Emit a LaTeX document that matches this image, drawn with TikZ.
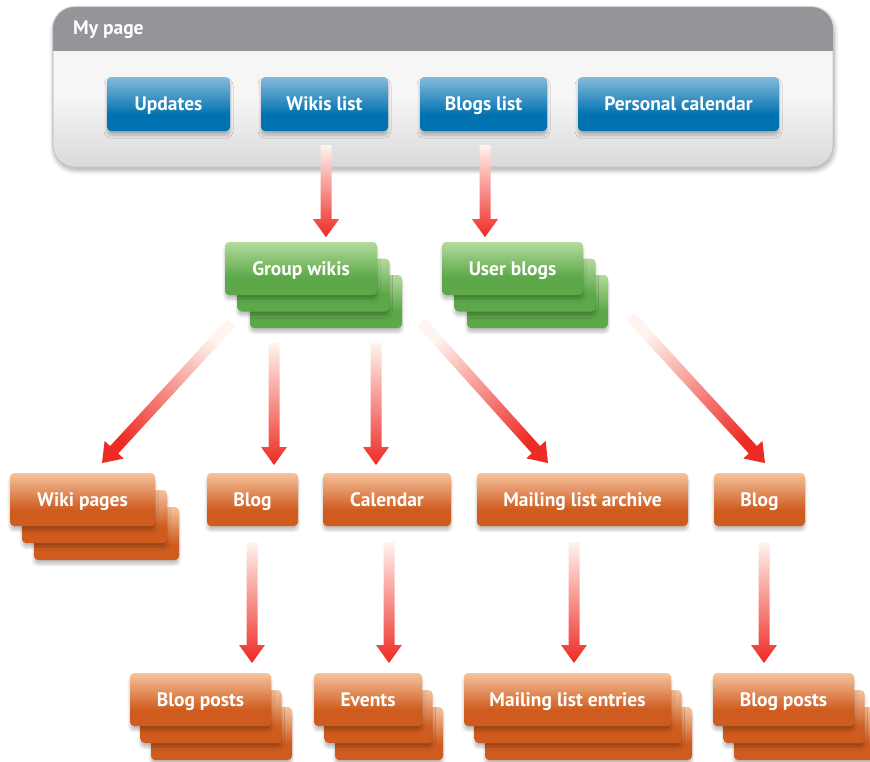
\documentclass[tikz,border=0pt]{standalone}
\usepackage{fontspec}
\setmainfont{PT Sans}
\usetikzlibrary{calc,shadows.blur}

% palette
\definecolor{hdrgray}{HTML}{939598}
\definecolor{panelL}{HTML}{F6F6F6}
\definecolor{panelD}{HTML}{D9D9DB}
\definecolor{panelEdge}{HTML}{C4C4C6}
\definecolor{blueL}{HTML}{86BADA}
\definecolor{blueD}{HTML}{0072B0}
\definecolor{greenL}{HTML}{B4DA9C}
\definecolor{greenD}{HTML}{5DA94A}
\definecolor{orangeL}{HTML}{F6C39D}
\definecolor{orangeD}{HTML}{CF5B1E}
\definecolor{arrowPale}{HTML}{FFF4EF}
\definecolor{arrowMid}{HTML}{F4A07E}
\definecolor{arrowRed}{HTML}{EE2A24}

% box fills: dark lower third, gradient to a light top edge
\pgfdeclareverticalshading{bluefill}{100bp}{color(0bp)=(blueD); color(25bp)=(blueD); color(40bp)=(blueD); color(75bp)=(blueL); color(100bp)=(blueL)}
\pgfdeclareverticalshading{greenfill}{100bp}{color(0bp)=(greenD); color(25bp)=(greenD); color(42bp)=(greenD); color(75bp)=(greenL); color(100bp)=(greenL)}
\pgfdeclareverticalshading{orangefill}{100bp}{color(0bp)=(orangeD); color(25bp)=(orangeD); color(40bp)=(orangeD); color(75bp)=(orangeL); color(100bp)=(orangeL)}
\pgfdeclareverticalshading{panelfill}{100bp}{color(0bp)=(panelD); color(25bp)=(panelD); color(47bp)=(panelL); color(100bp)=(panelL)}

\tikzset{
  box/.style={rounded corners=4pt, minimum height=53pt, inner sep=0pt,
    text=white, font=\fontsize{19.5}{22}\selectfont\bfseries,
    text height=13.5pt, text depth=0pt,
    blur shadow={shadow xshift=0pt, shadow yshift=-4pt, shadow blur steps=6,
      shadow opacity=25, shadow blur radius=3pt}},
  bluebox/.style={box, minimum height=54pt, shade, shading=bluefill},
  greenbox/.style={box, shade, shading=greenfill},
  orangebox/.style={box, shade, shading=orangefill},
  panelbox/.style={rounded corners=22pt, minimum width=780pt, minimum height=160pt,
    inner sep=0pt, shade, shading=panelfill, draw=panelEdge, line width=0.6pt,
    blur shadow={shadow xshift=1pt, shadow yshift=-3pt, shadow blur steps=8,
      shadow opacity=35, shadow blur radius=5pt}},
  hdrtext/.style={text=white, font=\fontsize{19.5}{22}\selectfont\bfseries,
    anchor=west, inner sep=0pt}
}

% gradient arrow: pale tail, red head
% #1 tail, #2 tip, #3 shading angle
\newcommand\gradarrow[3]{%
  \coordinate (headbase) at ($(#2)!18pt!(#1)$);
  \shade[top color=arrowPale, middle color=arrowMid, bottom color=arrowRed, shading angle=#3]
    ($(#1)!5.5pt!90:(#2)$) -- ($(headbase)!5.5pt!90:(#2)$)
    -- ($(headbase)!13pt!90:(#2)$) -- (#2)
    -- ($(headbase)!13pt!-90:(#2)$) -- ($(headbase)!5.5pt!-90:(#2)$)
    -- ($(#1)!5.5pt!-90:(#2)$) -- cycle;
}

\begin{document}
\begin{tikzpicture}[x=1pt, y=-1pt]
\useasboundingbox (0,0) rectangle (870,761);

% ---------- My page panel ----------
\node[panelbox] (panel) at (443,87) {};
\begin{scope}
  \clip[rounded corners=22pt] (panel.north west) rectangle (panel.south east);
  \fill[hdrgray] (panel.north west) rectangle ($(panel.north east)+(0,44)$);
\end{scope}
\draw[panelEdge, line width=0.6pt, rounded corners=22pt] (panel.north west) rectangle (panel.south east);
\node[hdrtext] (mypage) at (73,30) {My page};

\node[bluebox, minimum width=123pt] (upd) at (168.5,104) {Updates};
\node[bluebox, minimum width=127pt] (wl)  at (324.5,104) {Wikis list};
\node[bluebox, minimum width=127pt] (bl)  at (483.5,104) {Blogs list};
\node[bluebox, minimum width=201pt] (pc)  at (678.5,104) {Personal calendar};

% ---------- group level ----------
\node[greenbox, minimum width=152pt] (gw3) at (326,301.5) {};
\node[greenbox, minimum width=152pt] (gw2) at (313.5,285) {};
\node[greenbox, minimum width=152pt] (gw)  at (301,268.5) {Group wikis};

\node[greenbox, minimum width=141pt] (ub3) at (537.5,301.5) {};
\node[greenbox, minimum width=141pt] (ub2) at (525,285) {};
\node[greenbox, minimum width=141pt] (ub)  at (512.5,268.5) {User blogs};

% ---------- tool level ----------
\node[orangebox, minimum width=145pt] (wp3) at (106.5,533.5) {};
\node[orangebox, minimum width=145pt] (wp2) at (94.5,516.5) {};
\node[orangebox, minimum width=145pt] (wp)  at (82.5,499.5) {Wiki pages};
\node[orangebox, minimum width=91pt]  (blog1) at (252.5,499.5) {Blog};
\node[orangebox, minimum width=128pt] (cal)   at (387,499.5) {Calendar};
\node[orangebox, minimum width=211pt] (mla)   at (582.5,499.5) {Mailing list archive};
\node[orangebox, minimum width=91pt]  (blog2) at (759.5,499.5) {Blog};

% ---------- content level ----------
\node[orangebox, minimum width=141pt] (bp13) at (221.5,733.5) {};
\node[orangebox, minimum width=141pt] (bp12) at (211,716.5) {};
\node[orangebox, minimum width=141pt] (bp1)  at (200.5,699.5) {Blog posts};

\node[orangebox, minimum width=108pt] (ev3) at (389,733.5) {};
\node[orangebox, minimum width=108pt] (ev2) at (378.5,716.5) {};
\node[orangebox, minimum width=108pt] (ev)  at (368,699.5) {Events};

\node[orangebox, minimum width=207pt] (mle3) at (588.5,733.5) {};
\node[orangebox, minimum width=207pt] (mle2) at (578,716.5) {};
\node[orangebox, minimum width=207pt] (mle)  at (567.5,699.5) {Mailing list entries};

\node[orangebox, minimum width=141pt] (bp23) at (804.5,733.5) {};
\node[orangebox, minimum width=141pt] (bp22) at (794,716.5) {};
\node[orangebox, minimum width=141pt] (bp2)  at (783.5,699.5) {Blog posts};

% ---------- arrow ends ----------
\coordinate (wlT)  at ($(wl.south)+(1.5,14)$);
\coordinate (wlH)  at ($(wl.south)+(1.5,106)$);
\coordinate (blT)  at ($(bl.south)+(1.5,14)$);
\coordinate (blH)  at ($(bl.south)+(1.5,106)$);
\coordinate (gwT1) at (231,323);
\coordinate (wpH)  at (102,463);
\coordinate (gwT2) at (274,343);
\coordinate (b1H)  at (274,465);
\coordinate (gwT3) at (376,343);
\coordinate (calH) at (376,465);
\coordinate (gwT4) at (421,322);
\coordinate (mlaH) at (548,463);
\coordinate (ubT)  at (630,316);
\coordinate (b2H)  at (765,463);
\coordinate (b1T)  at (252,542);
\coordinate (bp1H) at (252,663);
\coordinate (calT) at (389,542);
\coordinate (evH)  at (389,663);
\coordinate (mlaT) at (574,542);
\coordinate (mleH) at (574,663);
\coordinate (b2T)  at (764,542);
\coordinate (bp2H) at (764,663);

% ---------- arrows ----------
\gradarrow{wlT}{wlH}{0}
\gradarrow{blT}{blH}{0}
\gradarrow{gwT1}{wpH}{-43}
\gradarrow{gwT2}{b1H}{0}
\gradarrow{gwT3}{calH}{0}
\gradarrow{gwT4}{mlaH}{42}
\gradarrow{ubT}{b2H}{42}
\gradarrow{b1T}{bp1H}{0}
\gradarrow{calT}{evH}{0}
\gradarrow{mlaT}{mleH}{0}
\gradarrow{b2T}{bp2H}{0}
\end{tikzpicture}
\end{document}
